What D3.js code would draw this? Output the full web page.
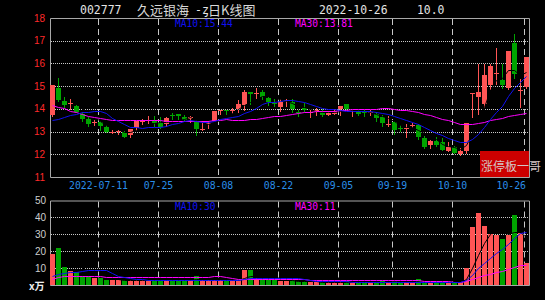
<!DOCTYPE html>
<html>
<head>
<meta charset="utf-8">
<script src="https://cdn.jsdelivr.net/npm/d3@7"></script>
<style>
  body { margin: 0; background: #000; }
  svg { display: block; }
  text { font-family: "DejaVu Sans Mono", monospace; }
</style>
</head>
<body>
<div id="chart"></div>
<script>
  // daily bars, 2022-06-29 .. 2022-10-26 (80 trading days)
  var opens = [13.72, 14.92, 14.34, 14.22, 14.12, 13.78, 13.56, 13.39, 13.43, 13.21,
    12.97, 13.00, 12.98, 12.85, 13.17, 13.44, 13.47, 13.48, 13.39, 13.32,
    13.72, 13.77, 13.64, 13.55, 13.42, 13.10, 13.36, 13.48, 13.92, 13.97,
    13.92, 13.99, 14.16, 14.73, 14.69, 14.73, 14.47, 14.27, 14.09, 14.38,
    14.28, 13.85, 14.03, 13.85, 13.90, 13.84, 13.73, 13.78, 14.00, 14.21,
    13.90, 13.88, 13.86, 13.84, 13.77, 13.65, 13.32, 13.40, 13.15, 13.15,
    13.25, 13.29, 12.73, 12.41, 12.60, 12.56, 12.16, 12.31, 12.01, 12.15,
    14.69, 14.53, 14.21, 15.04, 15.54, 15.26, 14.92, 16.91, 14.79, 14.96];
  var highs = [15.04, 15.36, 14.51, 14.43, 14.18, 13.84, 13.64, 13.53, 13.48, 13.29,
    13.07, 13.08, 13.02, 13.11, 13.48, 13.55, 13.68, 13.68, 13.64, 13.64,
    13.80, 13.78, 13.72, 13.70, 13.49, 13.46, 13.48, 13.92, 13.97, 13.97,
    14.02, 14.38, 14.82, 14.73, 14.92, 14.82, 14.53, 14.43, 14.43, 14.45,
    14.45, 13.94, 14.25, 13.94, 14.05, 14.01, 13.90, 13.98, 14.11, 14.21,
    13.94, 13.94, 13.94, 13.94, 13.84, 13.72, 13.67, 13.46, 13.29, 13.33,
    13.37, 13.33, 12.80, 12.63, 12.77, 12.70, 12.53, 12.38, 12.26, 13.37,
    14.71, 15.99, 15.99, 15.99, 16.68, 15.99, 16.53, 17.28, 15.32, 16.30];
  var lows = [13.65, 14.28, 14.05, 13.94, 13.80, 13.40, 13.21, 13.24, 13.02, 12.94,
    12.88, 12.85, 12.73, 12.73, 13.02, 13.29, 13.33, 13.20, 13.10, 13.20,
    13.51, 13.53, 13.46, 13.39, 12.80, 13.02, 13.11, 13.46, 13.73, 13.73,
    13.77, 13.80, 13.92, 14.16, 14.43, 14.40, 14.12, 14.09, 13.84, 14.09,
    13.80, 13.65, 13.84, 13.60, 13.70, 13.65, 13.68, 13.75, 13.68, 13.97,
    13.66, 13.68, 13.65, 13.69, 13.40, 13.21, 13.20, 12.84, 12.99, 12.73,
    13.14, 12.63, 12.23, 12.23, 12.34, 12.15, 12.09, 12.00, 11.93, 12.02,
    13.58, 13.73, 14.02, 14.85, 15.04, 14.87, 14.85, 15.33, 14.03, 14.89];
  var closes = [15.04, 14.38, 14.16, 14.26, 13.84, 13.55, 13.32, 13.41, 13.24, 12.96,
    12.99, 13.02, 12.77, 13.11, 13.48, 13.47, 13.49, 13.39, 13.21, 13.58,
    13.67, 13.70, 13.51, 13.65, 13.11, 13.12, 13.38, 13.90, 13.97, 13.93,
    13.94, 14.21, 14.75, 14.65, 14.71, 14.54, 14.28, 14.21, 14.32, 14.40,
    13.99, 13.81, 13.93, 13.87, 13.93, 13.73, 13.83, 13.91, 14.11, 13.99,
    13.92, 13.76, 13.82, 13.88, 13.58, 13.37, 13.34, 13.07, 13.13, 13.17,
    13.30, 12.75, 12.32, 12.60, 12.41, 12.19, 12.34, 12.04, 12.16, 13.37,
    14.71, 14.75, 15.48, 15.87, 15.56, 15.04, 16.53, 15.52, 14.82, 16.30];
  // volume, x10k
  var volumes = [18.5, 22.0, 10.8, 8.0, 7.9, 5.1, 5.1, 3.9, 3.9, 3.2,
    2.7, 2.7, 3.2, 2.7, 2.7, 2.7, 2.7, 2.7, 2.7, 2.7,
    2.7, 2.7, 2.7, 2.7, 5.5, 2.9, 2.9, 2.7, 2.7, 2.7,
    2.7, 2.7, 8.6, 8.6, 4.3, 3.4, 3.2, 2.7, 2.6, 2.6,
    3.2, 2.2, 2.2, 2.0, 2.0, 1.8, 1.8, 2.0, 2.2, 2.2,
    1.8, 1.8, 1.8, 1.8, 2.0, 2.6, 1.8, 2.2, 1.6, 1.6,
    1.6, 3.4, 1.8, 1.8, 1.8, 1.8, 1.8, 1.8, 1.8, 10.0,
    34.1, 42.4, 34.7, 30.2, 29.4, 27.0, 29.4, 41.2, 30.8, 13.2];

  // moving averages before their window is full
  var ma10Head = [13.49, 13.56, 13.64, 13.71, 13.78, 13.84, 13.87, 13.89, 13.89];
  var ma30Head = [14.16, 14.09, 14.02, 13.92, 13.84, 13.76, 13.70, 13.64, 13.59, 13.56,
    13.52, 13.50, 13.50, 13.50, 13.50, 13.50, 13.50, 13.50, 13.50, 13.47,
    13.47, 13.47, 13.47, 13.47, 13.47, 13.47, 13.47, 13.50, 13.50];
  var volMa10Head = [5.5, 6.5, 7.3, 7.8, 7.9, 8.2, 9.0, 9.0, 9.0];
  var volMa30Head = [3.8, 4.5, 5.1, 5.1, 5.2, 5.2, 5.2, 5.2, 5.2, 4.8,
    4.7, 4.7, 4.6, 4.6, 4.6, 4.6, 4.6, 4.6, 4.6, 4.6,
    4.6, 4.6, 4.6, 4.6, 4.7, 4.7, 5.0, 5.3, 5.3];

  // x axis ticks: bar index and label
  var tickIndex = [8, 18, 28, 38, 48, 57, 67, 79];
  var tickLabels = ['2022-07-11', '07-25', '08-08', '08-22', '09-05', '09-19', '10-10', '10-26'];
  var priceTicks = [11, 12, 13, 14, 15, 16, 17, 18];
  var volTicks = [10, 20, 30, 40, 50];

  var priceMaText = ['MA10:15.44', 'MA30:13.81'];
  var volMaText = ['MA10:30', 'MA30:11'];

  var UP = '#ff5555', DOWN = '#00a400';
  var MA5C = '#000000', MA10C = '#1010f0', MA30C = '#ff00ff';
  var GRID = '#c8c8c8', FRAME = '#a8a8a8';

  var svg = d3.select('#chart').append('svg')
    .attr('width', 545)
    .attr('height', 300)
    .style('background', '#000');

  var left = 50, right = 530;
  var x = d3.scaleBand().domain(d3.range(closes.length)).range([left, right]);
  var y = d3.scaleLinear().domain([11, 18]).range([177, 18]);
  var vy = d3.scaleLinear().domain([0, 50]).range([285, 200.5]);

  function movingAvg(values, n, head) {
    return values.map(function(v, i) {
      if (i < n - 1) return head ? head[i] : null;
      return d3.mean(values.slice(i - n + 1, i + 1));
    });
  }

  function isUp(i) { return closes[i] >= opens[i]; }

  //title
  var title = svg.append('g').attr('fill', '#e4e4e4');
  title.append('text').attr('x', 80).attr('y', 13.5).style('font-size', '11.5px').text('002777');
  title.append('text').attr('x', 137).attr('y', 14.5)
    .style('font-family', '"Noto Sans CJK SC"').style('font-size', '13px').attr('fill', '#d8d8d8')
    .text('久远银海');
  title.append('text').attr('x', 195).attr('y', 13.5).style('font-size', '11.5px').text('-ȥ');
  title.append('text').attr('x', 208).attr('y', 14.5)
    .style('font-family', '"Noto Sans CJK SC"').style('font-size', '13px').attr('fill', '#d8d8d8')
    .text('日K线图');
  title.append('text').attr('x', 319).attr('y', 13.5).style('font-size', '11.4px').text('2022-10-26');
  title.append('text').attr('x', 417).attr('y', 13.5).style('font-size', '11.4px').text('10.0');

  //draws one panel frame + grid
  function drawPanel(scale, top, bottom, hTicks) {
    var g = svg.append('g');
    g.selectAll('.hgrid')
      .data(hTicks)
      .enter().append('line')
      .attr('x1', left + 1).attr('x2', right - 1)
      .attr('y1', function(d) { return Math.round(scale(d)) + 0.5; })
      .attr('y2', function(d) { return Math.round(scale(d)) + 0.5; })
      .attr('stroke', GRID)
      .attr('stroke-dasharray', '1,1');
    g.selectAll('.vgrid')
      .data(tickIndex)
      .enter().append('line')
      .attr('x1', function(i) { return x(i) + 0.5; })
      .attr('x2', function(i) { return x(i) + 0.5; })
      .attr('y1', top + 1).attr('y2', bottom)
      .attr('stroke', GRID)
      .attr('stroke-dasharray', '6,4');
    g.append('path')
      .attr('d', 'M' + (left + 0.5) + ',' + (top + 0.5) + 'H' + (right - 0.5) + 'V' + (bottom + 0.5) + 'H' + (left + 0.5) + 'Z')
      .attr('fill', 'none')
      .attr('stroke', FRAME);
    return g;
  }

  drawPanel(y, 18, 177, [12, 13, 14, 15, 16, 17]);
  drawPanel(vy, 200.5, 285, [10, 20, 30, 40]);

  // price axis labels
  svg.append('g').selectAll('text')
    .data(priceTicks)
    .enter().append('text')
    .attr('x', 45).attr('y', function(d) { return y(d); })
    .attr('dy', '0.36em')
    .attr('text-anchor', 'end')
    .attr('fill', '#ff2a2a')
    .style('font-family', '"Liberation Sans"').style('font-size', '10px')
    .text(function(d) { return d; });

  // volume axis labels
  svg.append('g').selectAll('text')
    .data(volTicks)
    .enter().append('text')
    .attr('x', 46).attr('y', function(d) { return vy(d); })
    .attr('dy', '0.36em')
    .attr('text-anchor', 'end')
    .attr('fill', '#cfcfcf')
    .style('font-family', '"Liberation Sans"').style('font-size', '10px')
    .text(function(d) { return d; });

  svg.append('text').attr('x', 29).attr('y', 289.5)
    .attr('fill', '#f0f0f0').style('font-weight', 'bold')
    .style('font-family', '"Noto Sans CJK SC"').style('font-size', '10px')
    .text('x万');

  // date labels, kept inside the right edge
  svg.append('g').selectAll('text')
    .data(tickIndex)
    .enter().append('text')
    .attr('x', function(i, k) {
      var w = tickLabels[k].length * 5.9;
      return Math.min(x(i) + 0.5, 526 - w / 2);
    })
    .attr('y', 189)
    .attr('text-anchor', 'middle')
    .attr('fill', '#2a8ee8')
    .style('font-size', '9.8px')
    .text(function(i, k) { return tickLabels[k]; });

  // candles
  var candles = svg.append('g').selectAll('g')
    .data(d3.range(closes.length))
    .enter().append('g')
    .attr('fill', function(i) { return isUp(i) ? UP : DOWN; });

  candles.append('rect')
    .attr('x', function(i) { return x(i) + 2; })
    .attr('width', 1)
    .attr('y', function(i) { return Math.round(y(highs[i])); })
    .attr('height', function(i) { return Math.max(1, Math.round(y(lows[i])) - Math.round(y(highs[i]))); });

  candles.append('rect')
    .attr('x', function(i) { return x(i); })
    .attr('width', x.bandwidth() - 1)
    .attr('y', function(i) { return Math.round(y(Math.max(opens[i], closes[i]))); })
    .attr('height', function(i) {
      return Math.max(1, Math.round(y(Math.min(opens[i], closes[i]))) - Math.round(y(Math.max(opens[i], closes[i]))));
    });

  // volume bars
  svg.append('g').selectAll('rect')
    .data(d3.range(volumes.length))
    .enter().append('rect')
    .attr('x', function(i) { return x(i); })
    .attr('width', x.bandwidth() - 1)
    .attr('y', function(i) { return Math.round(vy(volumes[i])); })
    .attr('height', function(i) { return Math.round(vy(0)) - Math.round(vy(volumes[i])); })
    .attr('fill', function(i) { return isUp(i) ? UP : DOWN; });

  // moving average lines
  function drawLine(values, scale, color) {
    var line = d3.line()
      .defined(function(d) { return d != null; })
      .x(function(d, i) { return x(i) + 2.5; })
      .y(function(d) { return Math.round(scale(d)) + 0.5; });
    svg.append('path')
      .datum(values)
      .attr('d', line)
      .attr('fill', 'none')
      .attr('stroke', color)
      .attr('stroke-width', 1);
  }

  drawLine(movingAvg(closes, 5), y, MA5C);
  drawLine(movingAvg(closes, 30, ma30Head), y, MA30C);
  drawLine(movingAvg(closes, 10, ma10Head), y, MA10C);
  drawLine(movingAvg(volumes, 5), vy, MA5C);
  drawLine(movingAvg(volumes, 30, volMa30Head), vy, MA30C);
  drawLine(movingAvg(volumes, 10, volMa10Head), vy, MA10C);

  // MA readouts
  svg.append('text').attr('x', 175).attr('y', 26.5).attr('fill', MA10C).style('font-size', '9.6px').text(priceMaText[0]);
  svg.append('text').attr('x', 295).attr('y', 26.5).attr('fill', MA30C).style('font-size', '9.6px').text(priceMaText[1]);
  svg.append('text').attr('x', 175).attr('y', 210).attr('fill', MA10C).style('font-size', '9.6px').text(volMaText[0]);
  svg.append('text').attr('x', 295).attr('y', 210).attr('fill', MA30C).style('font-size', '9.6px').text(volMaText[1]);

  // watermark
  svg.append('rect').attr('x', 480).attr('y', 151).attr('width', 49).attr('height', 26).attr('fill', '#cc0000');
  svg.append('text').attr('x', 481).attr('y', 171)
    .attr('fill', '#d4c4c4')
    .style('font-family', '"Noto Sans CJK SC"').style('font-size', '12px')
    .text('涨停板一哥');
</script>
</body>
</html>
